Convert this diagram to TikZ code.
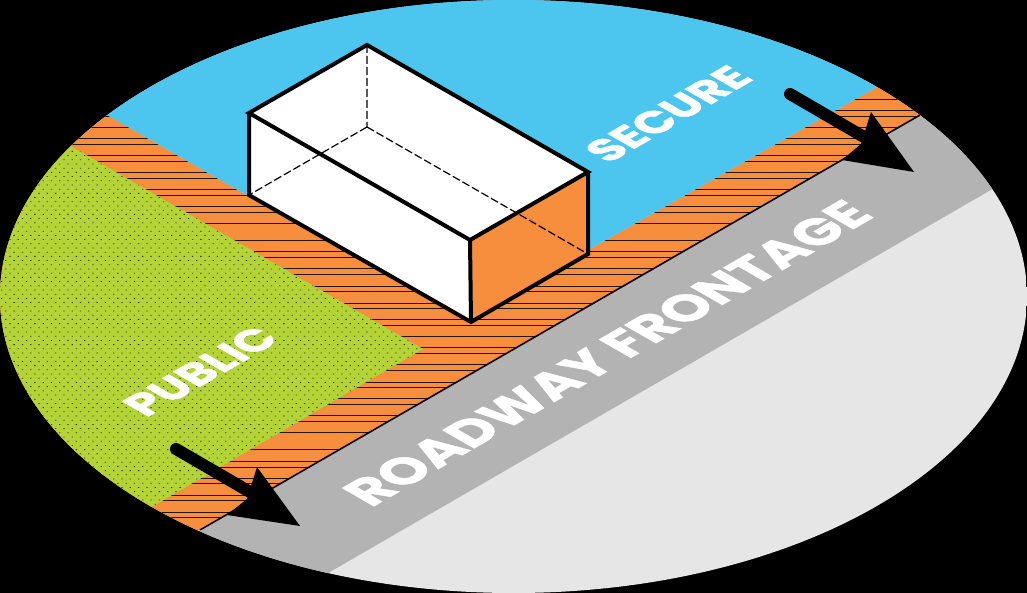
\documentclass[tikz,border=0pt]{standalone}
\usepackage{fontspec}
\setmainfont{Poppins}[BoldFont={Poppins Bold},BoldFeatures={FakeBold=1.2}]
\definecolor{skyblue}{HTML}{4CC6EF}
\definecolor{bandorange}{HTML}{F78E3D}
\definecolor{lawn}{HTML}{B4D336}
\definecolor{roadgray}{HTML}{B3B3B3}
\definecolor{palegray}{HTML}{E6E6E6}
\definecolor{dotink}{HTML}{2A3A14}
\tikzset{
  edgeline/.style={black,line width=4pt,line join=miter},
  hidden/.style={black,line width=1.2pt,dash pattern=on 8pt off 3pt},
  hatchline/.style={black!85!bandorange,line width=.9pt},
  shaft/.style={black,line width=12pt,line cap=round},
  isolabel/.style={text=white,font=\bfseries,inner sep=0pt,anchor=base west,transform shape},
}
\begin{document}
\begin{tikzpicture}[x=1pt,y=-1pt]
\useasboundingbox (0,0) rectangle (1027,593);
\fill[black] (0,0) rectangle (1027,593);
\begin{scope}
\clip (513.5,296.5) ellipse [x radius=513.5,y radius=296.5];
\fill[palegray] (0,0) rectangle (1027,593);
\fill[roadgray] (150,560) -- (950,98) -- (1060,98) -- (1060,150) -- (290,595) -- (150,600) -- cycle;
% orange band
\fill[bandorange] (0,100) -- (107,115) -- (464,320) -- (875,88) -- (930,60) -- (920,115) -- (200,530) -- (140,560) -- (0,400) -- cycle;
\begin{scope}
\clip (0,100) -- (107,115) -- (464,320) -- (875,88) -- (930,60) -- (920,115) -- (200,530) -- (140,560) -- (0,400) -- cycle;
\foreach \yy in {99,110,116,127,138,144,155,161,172,178,189,195,206,212,223,240,251,257,268,274,286,291,303,308,319,325,336,347,353,364,370,382,387,398,404,415,421,432,449,461,467,478,483,495,500,512,517}
  \draw[hatchline] (0,\yy) -- (1027,\yy);
\end{scope}
% blue
\fill[skyblue] (60,88) -- (107,115) -- (464,320) -- (875,88) -- (900,60) -- (900,-10) -- (60,-10) -- cycle;
% green
\fill[lawn] (-30,88) -- (423,349) -- (100,537) -- (-30,537) -- cycle;
\begin{scope}
\clip (-30,88) -- (423,349) -- (100,537) -- (-30,537) -- cycle;
\foreach \r in {0,...,90}{
  \pgfmathtruncatemacro{\odd}{mod(\r,2)}
  \pgfmathsetmacro{\yy}{130+4.2*\r}
  \pgfmathsetmacro{\xo}{1+4.15*\odd}
  \fill[dotink] foreach \c in {0,...,52}{ (\xo+8.3*\c,\yy) rectangle ++(1.3,.8) };
}
\end{scope}
% road edge
\draw[black,line width=1.6pt] (200,530) -- (920,115);
\end{scope}
% box
\fill[white] (249,113) -- (367,45) -- (588,172) -- (470,240) -- (471,322) -- (249,195) -- cycle;
\fill[bandorange] (470,240) -- (588,172) -- (588,254) -- (471,322) -- cycle;
\coordinate (tl) at (249,113);
\coordinate (tb) at (367,45);
\coordinate (tr) at (588,172);
\coordinate (tf) at (470,240);
\coordinate (bl) at (249,195);
\coordinate (bf) at (471,322);
\coordinate (br) at (588,254);
\coordinate (bb) at (367,127);
\draw[hidden] (tb) -- (bb) (bb) -- (bl) (bb) -- (br);
\draw[edgeline] (tl) -- (tb) -- (tr) -- (tf) -- cycle;
\draw[edgeline] (tl) -- (bl) -- (bf) -- (br) -- (tr);
\draw[edgeline] (tf) -- (bf);
% arrows
\coordinate (a1s) at (176,449);
\coordinate (a1e) at (250,492);
\coordinate (a2s) at (790,94);
\coordinate (a2e) at (864,137);
\draw[shaft] (a1s) -- (a1e);
\fill[black] (300,526) -- (257,467) -- (247,499) -- (227,515) -- cycle;
\draw[shaft] (a2s) -- (a2e);
\fill[black] (914,172) -- (871,112) -- (861,144) -- (842,160) -- cycle;
% labels
\begin{scope}[shift={(371,508)},cm={.96,.555,-.94,.54,(0,0)}]
\node[isolabel] (road) at (0,0) {\fontsize{48}{48}\selectfont ROADWAY FRONTAGE};
\end{scope}
\begin{scope}[shift={(146,418)},cm={.96,.555,-.94,.54,(0,0)}]
\node[isolabel] (pub) at (0,0) {\fontsize{40}{40}\selectfont PUBLIC};
\end{scope}
\begin{scope}[shift={(608,164)},cm={.96,.555,-.94,.54,(0,0)}]
\node[isolabel] (sec) at (0,0) {\fontsize{40}{40}\selectfont SECURE};
\end{scope}
\end{tikzpicture}
\end{document}
